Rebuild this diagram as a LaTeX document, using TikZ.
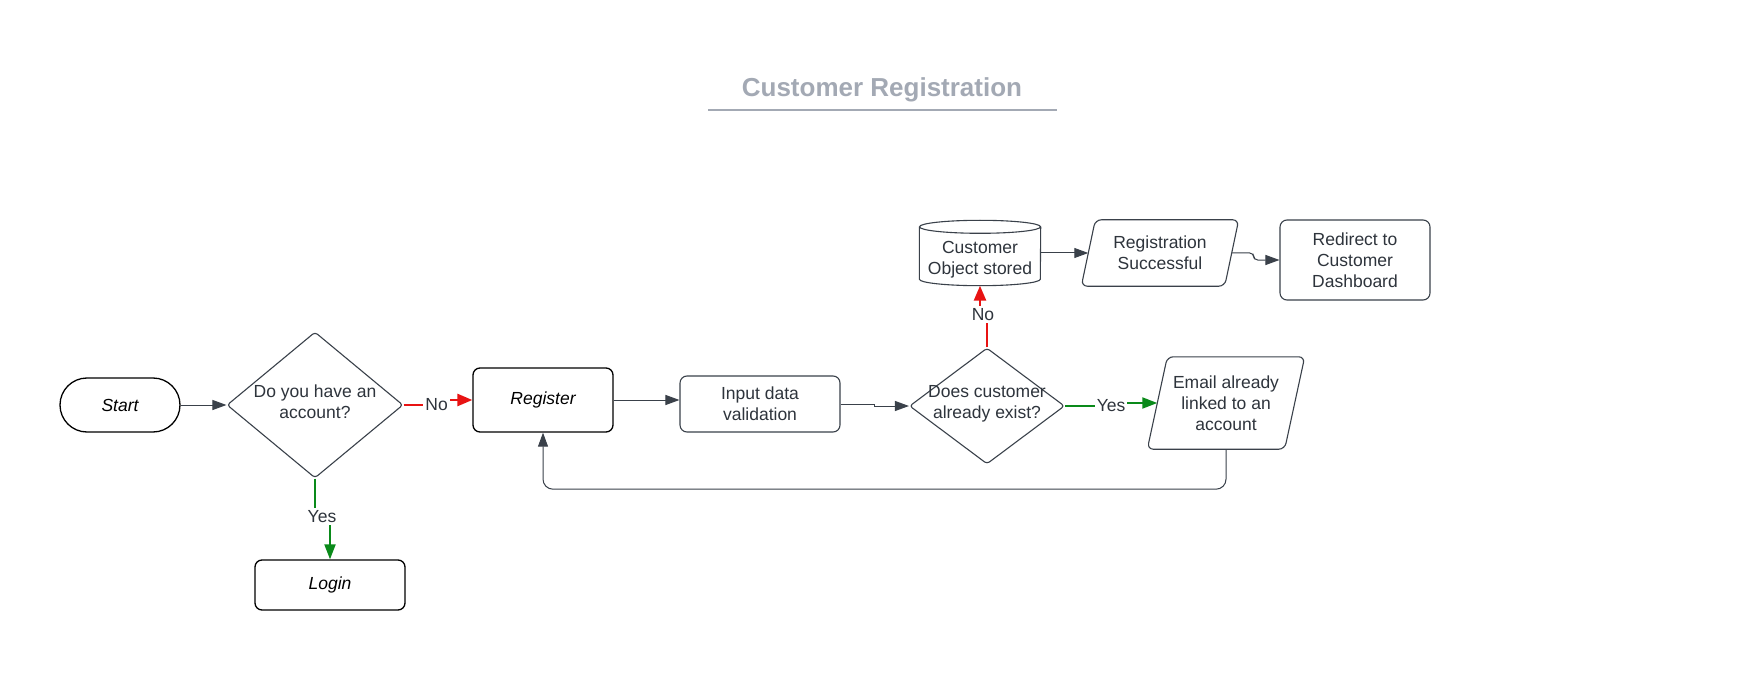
\documentclass[tikz,border=0pt]{standalone}
\usepackage{fontspec}
\setmainfont{Liberation Sans}
\usetikzlibrary{arrows.meta,shapes.geometric,calc}
\definecolor{lc}{HTML}{3A414A}
\definecolor{tc}{HTML}{2E343C}
\definecolor{rd}{HTML}{E81313}
\definecolor{gn}{HTML}{0A8A1A}
\definecolor{tg}{HTML}{A3A9B4}
\newcommand\fs{\fontsize{17.5}{21}\selectfont}
\begin{document}
\begin{tikzpicture}[x=1pt,y=-1pt,
  every node/.style={font=\fs, text=tc, align=center, inner sep=0pt},
  boxg/.style={draw=lc, line width=1.1pt, rounded corners=7pt},
  boxk/.style={draw=black, line width=1.3pt, rounded corners=7pt, text=black, font=\fs\itshape},
  dia/.style={diamond, draw=lc, line width=1.1pt, rounded corners=3pt},
  conn/.style={draw=lc, line width=1pt, -{Triangle[length=14pt,width=10pt]}},
  redc/.style={draw=rd, line width=2.5pt, -{Triangle[length=15pt,width=12pt]}},
  grnc/.style={draw=gn, line width=2pt, -{Triangle[length=15pt,width=11pt]}},
  lbl/.style={fill=white, inner sep=2pt},
  para/.style={draw=lc, line width=1.1pt, rounded corners=6pt}
]
\useasboundingbox[fill=white] (0,0) rectangle (1760,676);

% title
\node[font=\fontsize{26}{30}\selectfont\bfseries, text=tg] (title) at (882,90) {Customer Registration};
\coordinate (ulA) at (708,110);
\coordinate (ulB) at (1057,110);
\draw[draw=tg, line width=2pt] (ulA) -- (ulB);

% nodes
\node[boxk, rounded corners=27pt, minimum width=120pt, minimum height=54pt] (start) at (120,405) {Start};
\node[dia, minimum width=176pt, minimum height=146pt] (d1) at (315,405) {};
\node (d1t) at (315,402) {Do you have an\\account?};
\node[boxk, minimum width=140pt, minimum height=64pt] (register) at (543,400) {Register};
\node[boxk, minimum width=150pt, minimum height=50pt] (login) at (330,585) {Login};
\node[boxg, minimum width=160pt, minimum height=56pt] (input) at (760,404) {Input data\\validation};
\node[dia, minimum width=155pt, minimum height=116pt] (d2) at (987,406) {};
\node (d2t) at (987,403.5) {Does customer\\already exist?};

% email parallelogram
\node[minimum width=137pt, minimum height=92pt] (email) at (1226,403) {Email already\\linked to an\\account};
\draw[para] ([xshift=-10pt]email.south west) -- ([xshift=10pt]email.north west) -- ([xshift=10pt]email.north east) -- ([xshift=-10pt]email.south east) -- cycle;

% cylinder
\node[minimum width=121pt, minimum height=65pt] (cyl) at (980,253) {};
\node (cylt) at (980,259.5) {Customer\\Object stored};
\draw[draw=lc, line width=1.1pt] ([yshift=-6.5pt]cyl.north west) -- ([yshift=6.5pt]cyl.south west)
  arc[start angle=180, end angle=360, x radius=60.5pt, y radius=6.5pt] -- ([yshift=-6.5pt]cyl.north east);
\draw[draw=lc, line width=1.1pt] ([yshift=-6.5pt]cyl.north) ellipse[x radius=60.5pt, y radius=6.5pt];

% registration successful parallelogram
\node[minimum width=143pt, minimum height=66pt] (regs) at (1160,253) {Registration\\Successful};
\draw[para] ([xshift=-7pt]regs.south west) -- ([xshift=7pt]regs.north west) -- ([xshift=7pt]regs.north east) -- ([xshift=-7pt]regs.south east) -- cycle;

\node[boxg, minimum width=150pt, minimum height=80pt] (redirect) at (1355,260) {Redirect to\\Customer\\Dashboard};

% connectors
\draw[conn] (start.east) -- (start.east -| d1.west);
\draw[redc] (d1.east) -- ++(34,0) coordinate (j1) |- (register.west);
\node[lbl] (no1) at ([xshift=-1pt]j1) {No};
\draw[grnc] (d1.south) -- ++(0,38) coordinate (j2) -| (login.north);
\node[lbl] (yes1) at ([xshift=7pt]j2) {Yes};
\draw[conn] (register.east) -- (register.east -| input.west);
\draw[conn] (input.east) -- ++(34,0) |- (d2.west);
\draw[redc] (d2.north) -- ++(0,-33) coordinate (j3) -| (cyl.south);
\node[lbl] (no2) at ([xshift=-4pt]j3) {No};
\draw[grnc] (d2.east) -- ++(46,0) coordinate (j4) |- (email.west);
\node[lbl] (yes2) at (j4) {Yes};
\draw[conn] (cyl.east) -- (regs.west);
\draw[conn, rounded corners=4pt] (regs.east) -- ++(22,0) |- (redirect.west);
\draw[conn, rounded corners=10pt] (email.south) -- ++(0,40) -| (register.south);
\end{tikzpicture}
\end{document}
